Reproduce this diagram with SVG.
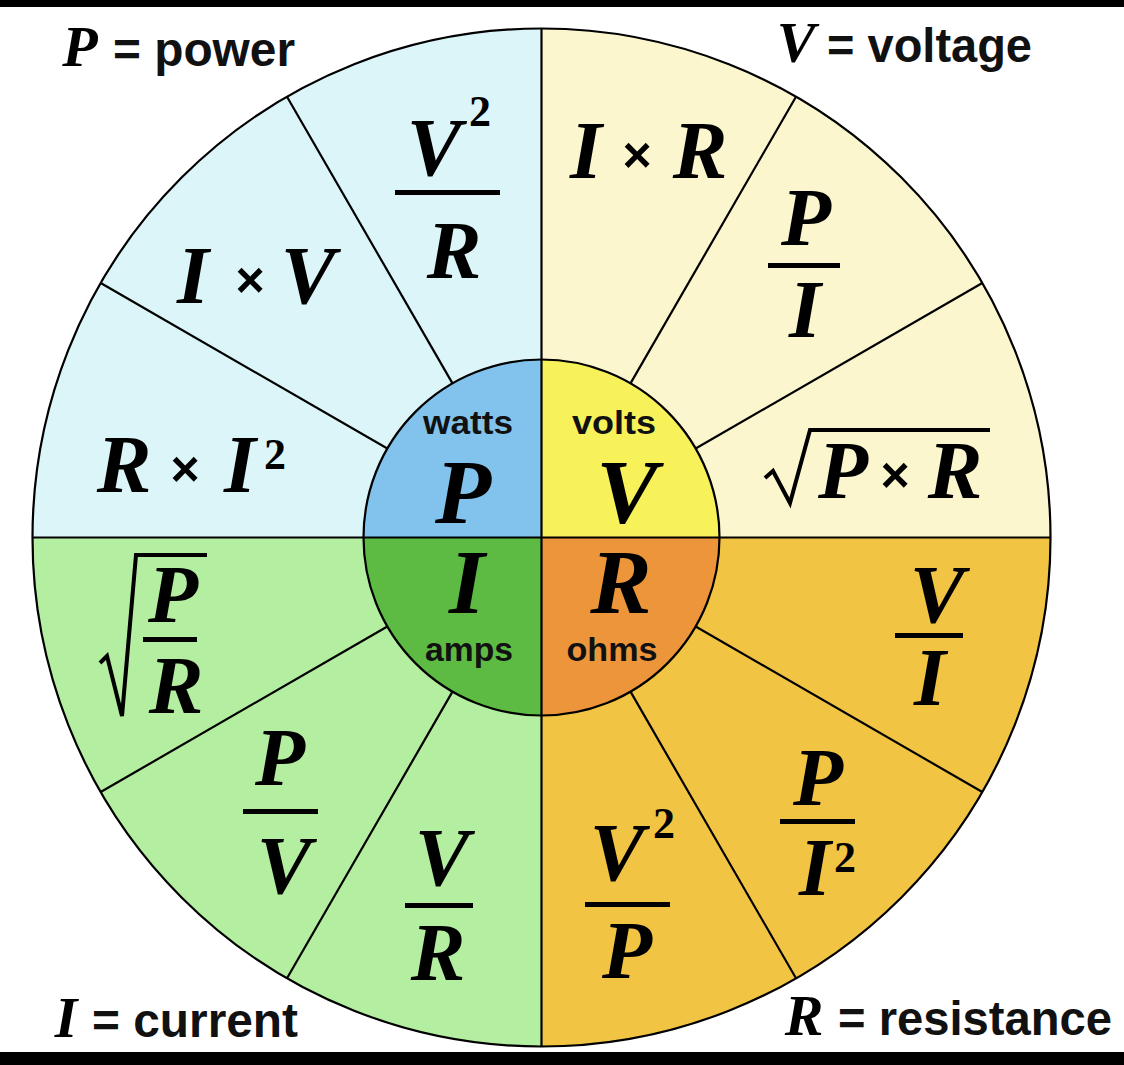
<svg xmlns="http://www.w3.org/2000/svg" xmlns:xlink="http://www.w3.org/1999/xlink" width="1124" height="1065" viewBox="0 0 1124 1065">
<style>
.f{font-family:"Liberation Serif","Times New Roman",serif;font-weight:bold;font-style:italic;font-size:82px;fill:#000;text-anchor:middle}
.big{font-size:92px}
.cl{font-size:58px}
.sup{font-family:"Liberation Serif",serif;font-weight:bold;font-size:44px;fill:#000;text-anchor:middle}
.x{font-family:"Liberation Sans",sans-serif;font-weight:bold;font-size:50px;fill:#000;text-anchor:middle}
.lbl{font-family:"Liberation Sans Narrow","Liberation Sans",sans-serif;font-weight:bold;font-size:34px;fill:#111;text-anchor:middle}
.cap{font-family:"Liberation Sans Narrow","Liberation Sans",sans-serif;font-weight:bold;font-size:48px;fill:#111}
.ln{stroke:#000;stroke-width:2.2;fill:none}
.bar{fill:#000}
.rad{fill:none;stroke:#000;stroke-width:4;stroke-linejoin:miter}
</style>
<defs>
<line id="spoke" x1="719.5" y1="537.5" x2="1050.5" y2="537.5" class="ln"/>
</defs>
<rect width="1124" height="1065" fill="#fff"/>
<rect x="0" y="0" width="1124" height="7" fill="#000"/>
<rect x="0" y="1052" width="1124" height="13" fill="#000"/>

<g id="quadrants">
<path d="M541.5,537.5 L32.5,537.5 A509,509 0 0 1 541.5,28.5 Z" fill="#dbf5f9"/>
<path d="M541.5,537.5 L541.5,28.5 A509,509 0 0 1 1050.5,537.5 Z" fill="#fcf6cf"/>
<path d="M541.5,537.5 L32.5,537.5 A509,509 0 0 0 541.5,1046.5 Z" fill="#b4eea0"/>
<path d="M541.5,537.5 L541.5,1046.5 A509,509 0 0 0 1050.5,537.5 Z" fill="#f2c444"/>
</g>

<g id="center">
<path d="M541.5,537.5 L363.5,537.5 A178,178 0 0 1 541.5,359.5 Z" fill="#82c3ee"/>
<path d="M541.5,537.5 L541.5,359.5 A178,178 0 0 1 719.5,537.5 Z" fill="#f7f15a"/>
<path d="M541.5,537.5 L363.5,537.5 A178,178 0 0 0 541.5,715.5 Z" fill="#5dbb44"/>
<path d="M541.5,537.5 L541.5,715.5 A178,178 0 0 0 719.5,537.5 Z" fill="#ed953a"/>
</g>

<g id="connectors">
<circle cx="541.5" cy="537.5" r="509" class="ln"/>
<circle cx="541.5" cy="537.5" r="178" class="ln"/>
<line x1="32.5" y1="537.5" x2="1050.5" y2="537.5" class="ln"/>
<line x1="541.5" y1="28.5" x2="541.5" y2="1046.5" class="ln"/>
<use xlink:href="#spoke" transform="rotate(-30 541.5 537.5)"/>
<use xlink:href="#spoke" transform="rotate(-60 541.5 537.5)"/>
<use xlink:href="#spoke" transform="rotate(-120 541.5 537.5)"/>
<use xlink:href="#spoke" transform="rotate(-150 541.5 537.5)"/>
<use xlink:href="#spoke" transform="rotate(30 541.5 537.5)"/>
<use xlink:href="#spoke" transform="rotate(60 541.5 537.5)"/>
<use xlink:href="#spoke" transform="rotate(120 541.5 537.5)"/>
<use xlink:href="#spoke" transform="rotate(150 541.5 537.5)"/>
</g>

<g id="node-P">
<text class="lbl" x="468" y="434" textLength="90" lengthAdjust="spacingAndGlyphs">watts</text>
<text class="f big" x="463" y="523">P</text>
</g>
<g id="node-V">
<text class="lbl" x="614" y="434" textLength="84" lengthAdjust="spacingAndGlyphs">volts</text>
<text class="f big" x="627" y="523">V</text>
</g>
<g id="node-I">
<text class="f big" x="467" y="613">I</text>
<text class="lbl" x="469" y="661" textLength="88" lengthAdjust="spacingAndGlyphs">amps</text>
</g>
<g id="node-R">
<text class="f big" x="621" y="613">R</text>
<text class="lbl" x="612" y="661" textLength="91" lengthAdjust="spacingAndGlyphs">ohms</text>
</g>

<g id="legend-P">
<text class="f cl" x="80" y="66">P</text>
<text class="cap" x="113" y="66" textLength="182" lengthAdjust="spacingAndGlyphs">= power</text>
</g>
<g id="legend-V">
<text class="f cl" x="796" y="62">V</text>
<text class="cap" x="827" y="62" textLength="205" lengthAdjust="spacingAndGlyphs">= voltage</text>
</g>
<g id="legend-I">
<text class="f cl" x="66" y="1037">I</text>
<text class="cap" x="92" y="1037" textLength="206" lengthAdjust="spacingAndGlyphs">= current</text>
</g>
<g id="legend-R">
<text class="f cl" x="804" y="1035">R</text>
<text class="cap" x="838" y="1035" textLength="274" lengthAdjust="spacingAndGlyphs">= resistance</text>
</g>

<g id="f-V2overR">
<text class="f" x="434" y="175">V</text>
<text class="sup" x="480" y="126">2</text>
<rect class="bar" x="395" y="190" width="105" height="5"/>
<text class="f" x="454" y="278">R</text>
</g>
<g id="f-IxV">
<text class="f" x="193" y="303">I</text>
<text class="x" x="250" y="297">×</text>
<text class="f" x="308" y="303">V</text>
</g>
<g id="f-RxI2">
<text class="f" x="124" y="492">R</text>
<text class="x" x="185" y="486">×</text>
<text class="f" x="240" y="492">I</text>
<text class="sup" x="275" y="469">2</text>
</g>
<g id="f-IxR">
<text class="f" x="586" y="178">I</text>
<text class="x" x="637" y="172">×</text>
<text class="f" x="700" y="178">R</text>
</g>
<g id="f-PoverI">
<text class="f" x="806" y="245">P</text>
<rect class="bar" x="768" y="263" width="72" height="5"/>
<text class="f" x="805" y="337">I</text>
</g>
<g id="f-sqrtPxR">
<path class="rad" d="M765,478 L773,471 L790,503 L810,430 L990,430"/>
<text class="f" x="843" y="498">P</text>
<text class="x" x="895" y="492">×</text>
<text class="f" x="955" y="498">R</text>
</g>
<g id="f-sqrtPoverR">
<path class="rad" d="M100,663 L107,656 L122,716 L136,555 L207,555"/>
<text class="f" x="173" y="622">P</text>
<rect class="bar" x="143" y="637" width="54" height="5"/>
<text class="f" x="176" y="713">R</text>
</g>
<g id="f-PoverV">
<text class="f" x="280" y="785">P</text>
<rect class="bar" x="243" y="809" width="75" height="5"/>
<text class="f" x="284" y="893">V</text>
</g>
<g id="f-VoverR">
<text class="f" x="442" y="885">V</text>
<rect class="bar" x="405" y="903" width="68" height="5"/>
<text class="f" x="438" y="980">R</text>
</g>
<g id="f-VoverI">
<text class="f" x="937" y="622">V</text>
<rect class="bar" x="895" y="633" width="68" height="5"/>
<text class="f" x="930" y="705">I</text>
</g>
<g id="f-PoverI2">
<text class="f" x="818" y="805">P</text>
<rect class="bar" x="780" y="819" width="75" height="5"/>
<text class="f" x="815" y="895">I</text>
<text class="sup" x="845" y="872">2</text>
</g>
<g id="f-V2overP">
<text class="f" x="617" y="880">V</text>
<text class="sup" x="664" y="838">2</text>
<rect class="bar" x="585" y="902" width="85" height="5"/>
<text class="f" x="627" y="978">P</text>
</g>
</svg>
